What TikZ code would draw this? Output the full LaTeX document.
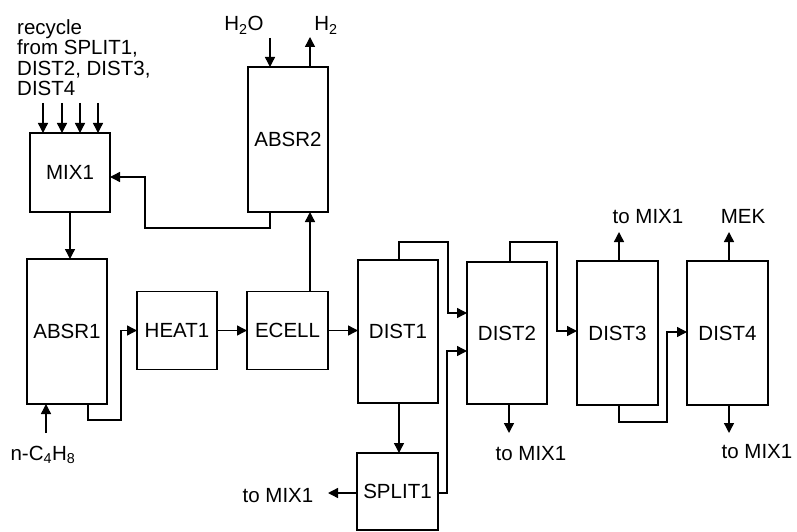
\documentclass[tikz,border=0pt]{standalone}
\usepackage{fontspec}
\setmainfont{Liberation Sans}
\usetikzlibrary{arrows.meta}
\tikzset{
  every node/.style={font=\fontsize{20.5}{20.5}\selectfont},
  unit/.style={draw,line width=1.4pt,minimum width=80pt,inner sep=0pt,outer sep=0pt},
  tallunit/.style={unit,minimum height=144pt},
  shortunit/.style={unit,minimum height=78pt},
  stream/.style={inner sep=0pt},
  flow/.style={draw,line width=1.4pt,-{Triangle[length=10pt,width=10pt]}}
}
\begin{document}
\begin{tikzpicture}[x=1pt,y=-1pt]
  \useasboundingbox (0,0) rectangle (797,532);
  % Process units.
  \node[shortunit,minimum height=79pt] (mix1) at (70,172.5) {MIX1};
  \node[tallunit,minimum height=145pt] (absr2) at (288,139.5) {ABSR2};
  \node[tallunit,minimum height=145pt] (absr1) at (67,331.5) {ABSR1};
  \node[shortunit] (heat1) at (177,330.5) {HEAT1};
  \node[shortunit,minimum width=81pt] (ecell) at (287.5,330.5) {ECELL};
  \node[tallunit,minimum height=143pt] (dist1) at (398,331.5) {DIST1};
  \node[tallunit,minimum height=142pt] (dist2) at (507,333) {DIST2};
  \node[tallunit,minimum width=81pt] (dist3) at (617.5,333) {DIST3};
  \node[tallunit,minimum width=81pt] (dist4) at (727.5,333) {DIST4};
  \node[shortunit,minimum width=81pt,minimum height=77pt] (split1) at (397.5,491.5) {SPLIT1};

  % Stream labels.
  \node[stream,anchor=north west,align=left] (recycle) at (17,19)
    {recycle\\from SPLIT1,\\DIST2, DIST3,\\DIST4};
  \node[stream,anchor=base] (water) at (244,31) {H\textsubscript{2}O};
  \node[stream,anchor=base] (hydrogen) at (326,31) {H\textsubscript{2}};
  \node[stream,anchor=base] (butene) at (43,460) {n-C\textsubscript{4}H\textsubscript{8}};
  \node[stream,anchor=base] (splitlbl) at (278,502) {to MIX1};
  \node[stream,anchor=base] (dtwolbl) at (531,460) {to MIX1};
  \node[stream,anchor=base] (dthreelbl) at (648,223) {to MIX1};
  \node[stream,anchor=base] (mek) at (743,223) {MEK};
  \node[stream,anchor=base] (dfourlbl) at (757,458) {to MIX1};

  % Free stream ends.
  \coordinate (waterin) at (270,38);
  \coordinate (hydout) at (310,37);
  \coordinate (feedin) at (46,433);
  \coordinate (splitout) at (328,493);
  \coordinate (dtwoout) at (509,433);
  \coordinate (dthreeout) at (619,232);
  \coordinate (mekout) at (729,232);
  \coordinate (dfourout) at (729,433);

  % Recycle inlets to MIX1.
  \foreach \x [count=\i] in {43,62,80,98}{
    \coordinate (rc\i) at (\x,103);
    \draw[flow] (rc\i) -- (rc\i |- mix1.north);
  }

  % Absorber section.
  \draw[flow] (waterin) -- (waterin |- absr2.north);
  \draw[flow] (hydout |- absr2.north) -- (hydout);
  \draw[flow] ([xshift=-18pt]absr2.south) -- ++(0,16) -| ([xshift=35pt,yshift=-4.5pt]mix1.east)
    -- ([yshift=-4.5pt]mix1.east);
  \draw[flow] (mix1.south) -- (mix1.south |- absr1.north);
  \draw[flow] (feedin) -- (feedin |- absr1.south);
  \draw[flow] ([xshift=21pt]absr1.south) -- ++(0,16) -| ([xshift=-16pt]heat1.west) -- (heat1.west);
  \draw[flow] (heat1) -- (ecell);
  \draw[flow] ([xshift=22.5pt]ecell.north) -- ([xshift=22.5pt]ecell.north |- absr2.south);
  \draw[flow] (ecell.east) -- (ecell.east -| dist1.west);

  % Distillation train.
  \draw[flow] ([xshift=1pt]dist1.north) -- ++(0,-18) -| ([xshift=-19pt,yshift=20pt]dist2.west)
    -- ([yshift=20pt]dist2.west);
  \draw[flow] ([xshift=1pt]dist1.south) -- ([xshift=1pt]dist1.south |- split1.north);
  \draw[flow] ([yshift=-1.5pt]split1.east) -- ++(9,0) |- ([yshift=-18pt]dist2.west);
  \draw[flow] (split1.west |- splitout) -- (splitout);
  \draw[flow] (dtwoout |- dist2.south) -- (dtwoout);
  \draw[flow] ([xshift=3pt]dist2.north) -- ++(0,-20) -| ([xshift=-20pt,yshift=2pt]dist3.west)
    -- ([yshift=2pt]dist3.west);
  \draw[flow] (dthreeout |- dist3.north) -- (dthreeout);
  \draw[flow] ([xshift=1.5pt]dist3.south) -- ++(0,17) -| ([xshift=-20pt,yshift=1pt]dist4.west)
    -- ([yshift=1pt]dist4.west);
  \draw[flow] (mekout |- dist4.north) -- (mekout);
  \draw[flow] (dfourout |- dist4.south) -- (dfourout);
\end{tikzpicture}
\end{document}
